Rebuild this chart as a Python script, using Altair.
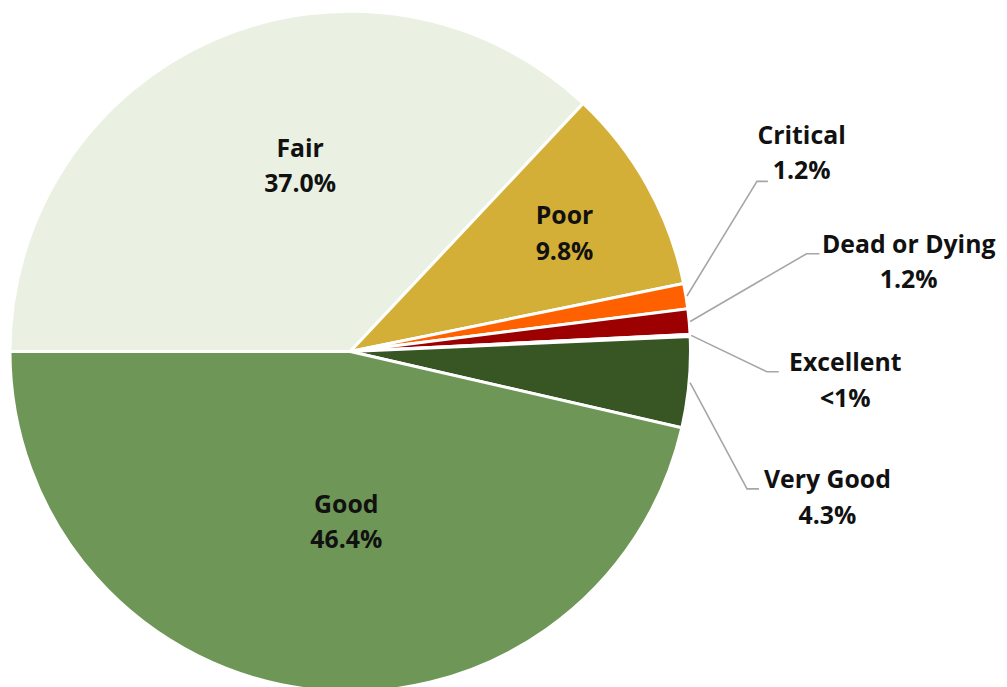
import math
import altair as alt
import pandas as pd

# ---- data ----
categories = ["Fair", "Poor", "Critical", "Dead or Dying", "Excellent", "Very Good", "Good"]
values = [37.0, 9.8, 1.2, 1.2, 0.1, 4.3, 46.4]
value_labels = ["37.0%", "9.8%", "1.2%", "1.2%", "<1%", "4.3%", "46.4%"]
colors = ["#EAF1E2", "#D4AF37", "#FF6100", "#9C0000", "#A9D08E", "#375623", "#6E9656"]

# ---- layout ----
W, H = 999, 679
CX, CY, R = 345, 343.5, 343
START = 1.5 * math.pi  # pie starts at 9 o'clock, clockwise
# first-line centres of the label blocks (chart px)
label_pos = {
    "Fair": (294.5, 139), "Poor": (561, 207), "Good": (341, 498),
    "Critical": (800, 126), "Dead or Dying": (908, 236),
    "Excellent": (844, 355), "Very Good": (826, 473),
}
# leader elbows / ends
leader = {
    "Critical": ((755, 172), (766, 172)),
    "Dead or Dying": ((805, 245), (818, 245)),
    "Excellent": ((765, 364), (777, 364)),
    "Very Good": ((745, 482), (757, 482)),
}

pie_df = pd.DataFrame({"cat": categories, "val": values, "ord": range(len(categories))})

total = sum(values)
lab_rows, line_rows = [], []
cum = 0.0
for c, v, t in zip(categories, values, value_labels):
    mid = START + 2 * math.pi * (cum + v / 2) / total
    cum += v
    lx, ly = label_pos[c]
    lab_rows.append({"cat": c, "text": f"{c}\n{t}", "x": lx, "y": ly})
    if c in leader:
        sx = CX + (R + 1) * math.sin(mid)
        sy = CY - (R + 1) * math.cos(mid)
        (ex, ey), (fx, fy) = leader[c]
        for i, (px, py) in enumerate([(sx, sy), (ex, ey), (fx, fy)]):
            line_rows.append({"cat": c, "i": i, "x": px, "y": py})

lab_df = pd.DataFrame(lab_rows)
line_df = pd.DataFrame(line_rows)

pie = alt.Chart(pie_df).mark_arc(outerRadius=R, stroke="white", strokeWidth=3).encode(
    theta=alt.Theta("val:Q", stack=True, scale=alt.Scale(range=[START, START + 2 * math.pi])),
    color=alt.Color("cat:N", scale=alt.Scale(domain=categories, range=colors), legend=None),
    order=alt.Order("ord:Q"),
    x=alt.value(CX),
    y=alt.value(CY),
)

lines = alt.Chart(line_df).mark_line(color="#A6A6A6", strokeWidth=1.6).encode(
    x=alt.X("x:Q", scale=None),
    y=alt.Y("y:Q", scale=None),
    detail="cat:N",
    order="i:Q",
)

labels = alt.Chart(lab_df).mark_text(
    font="Open Sans", fontSize=25, fontWeight="bold", color="#111111",
    align="center", baseline="middle", lineBreak="\n", lineHeight=36,
).encode(
    x=alt.X("x:Q", scale=None),
    y=alt.Y("y:Q", scale=None),
    text="text:N",
)

chart = alt.layer(pie, lines, labels).properties(
    width=W, height=H,
    autosize=alt.AutoSizeParams(type="none"),
    padding=0,
    background="white",
).configure_view(strokeWidth=0, stroke="transparent")

chart.save("out.html", embed_options={"renderer": "svg", "actions": False})
